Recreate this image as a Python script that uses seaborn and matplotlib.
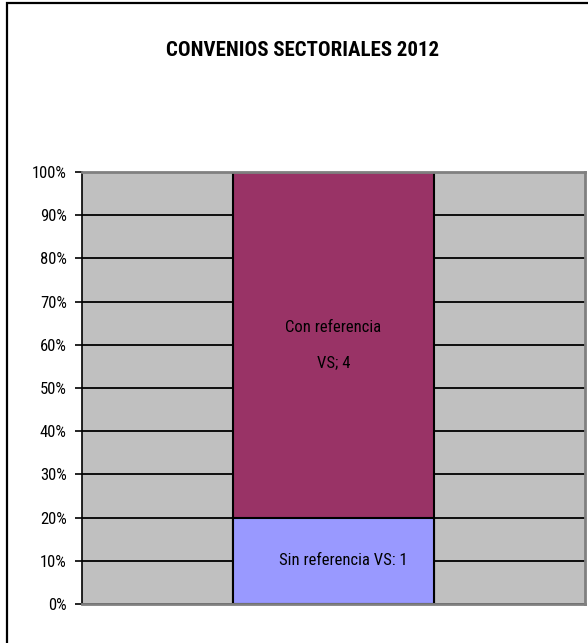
import matplotlib
matplotlib.use("Agg")
import matplotlib.pyplot as plt
from matplotlib.patches import Rectangle
import pandas as pd
import seaborn as sns

# Sector agreements 2012, split by whether they reference a wage variable (VS)
categories = ["2012"]
sin_referencia = [1]
con_referencia = [4]
yticks = [0, 10, 20, 30, 40, 50, 60, 70, 80, 90, 100]

total = [s + c for s, c in zip(sin_referencia, con_referencia)]
sin_pct = [100 * s / t for s, t in zip(sin_referencia, total)]
top_pct = [100 * (s + c) / t for s, c, t in zip(sin_referencia, con_referencia, total)]

df = pd.DataFrame({"cat": categories, "sin": sin_pct, "top": top_pct})

sns.set_theme(style="white")
narrow_font = ["Liberation Sans Narrow", "Roboto Condensed", "Archivo Narrow", "DejaVu Sans"]
plt.rcParams["font.family"] = narrow_font

fig = plt.figure(figsize=(5.88, 6.43), dpi=100)
ax = fig.add_axes([82 / 588, 39 / 643, 503 / 588, 432 / 643])
ax.set_facecolor("#C0C0C0")

# stacked column: full height in purple, lower segment overlaid in blue
sns.barplot(data=df, x="cat", y="top", color="#993366", saturation=1,
            width=0.4, edgecolor="black", linewidth=1.5, ax=ax)
sns.barplot(data=df, x="cat", y="sin", color="#9999FF", saturation=1,
            width=0.4, edgecolor="black", linewidth=1.5, ax=ax)

ax.set_xlim(-0.5, 0.5)
ax.set_ylim(0, 100)
ax.set_yticks(yticks)
ax.set_yticklabels([f"{v}%" for v in yticks], fontsize=12)
ax.set_xticks([])
ax.set_xlabel("")
ax.set_ylabel("")
ax.set_axisbelow(True)
ax.yaxis.grid(True, color="black", linewidth=1.3)
ax.tick_params(axis="y", which="major", left=True, length=5, width=1.2,
               color="black", pad=6, labelcolor="black")

for side in ["top", "right", "bottom"]:
    ax.spines[side].set_color("#808080")
    ax.spines[side].set_linewidth(2)
ax.spines["left"].set_color("black")
ax.spines["left"].set_linewidth(1.2)

# segment labels
for i, (s, c) in enumerate(zip(sin_referencia, con_referencia)):
    sp = 100 * s / (s + c)
    ax.annotate(f"Sin referencia VS: {s}", xy=(i, sp / 2), xytext=(7, 0),
                textcoords="offset points", ha="center", va="center",
                fontsize=12, color="black")
    ax.text(i, sp + (100 - sp) / 2, f"Con referencia\nVS; {c}",
            ha="center", va="center", fontsize=12, color="black",
            linespacing=2.7)

fig.text(303 / 588, 1 - 50 / 643, "CONVENIOS SECTORIALES 2012",
         ha="center", va="center", fontsize=15, fontweight="bold",
         color="black")

# chart area border
fig.patches.append(Rectangle((7 / 588, -0.1), 1.2, 1 - 3 / 643 + 0.1,
                             transform=fig.transFigure, fill=False,
                             edgecolor="black", linewidth=1.6, zorder=10))

fig.savefig("out.png", dpi=100)
